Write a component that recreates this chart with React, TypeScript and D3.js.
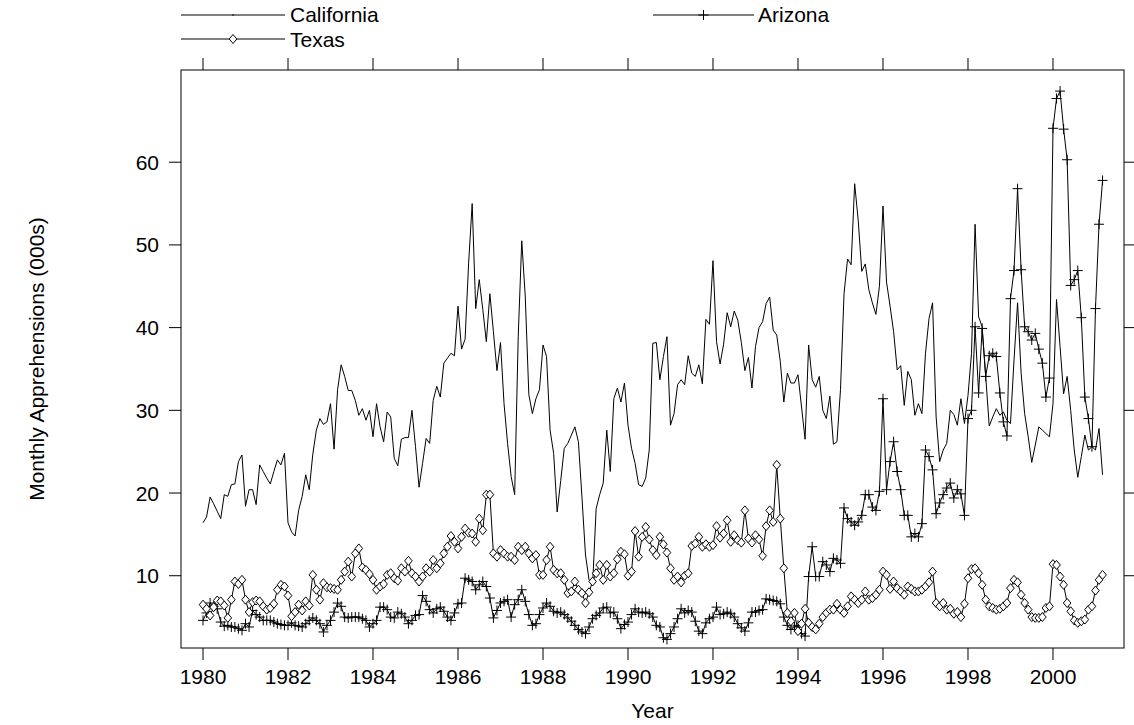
import React from "react";
import * as d3 from "d3";

const startYear = 1980;
const californiaValues = [
  16.4, 17.1, 19.5, 18.7, 17.8, 16.9, 19.8, 19.6, 21.0, 21.1, 23.8, 24.6,
  18.4, 20.4, 20.4, 18.6, 23.4, 22.6, 21.8, 21.1, 22.6, 24.0, 23.4, 24.8,
  16.4, 15.3, 14.8, 17.9, 19.6, 22.2, 20.4, 24.7, 27.6, 29.0, 28.3, 28.6,
  30.8, 25.3, 32.5, 35.5, 34.1, 32.4, 32.4, 31.2, 29.4, 30.2, 28.8, 30.0,
  26.8, 30.8, 28.0, 26.2, 29.8, 29.2, 24.2, 23.3, 26.5, 26.7, 26.7, 30.0,
  25.6, 20.7, 23.6, 26.6, 26.0, 31.2, 32.9, 31.6, 35.7, 36.3, 36.9, 36.6,
  42.6, 37.4, 38.6, 47.8, 55.0, 42.3, 45.8, 42.2, 38.3, 44.1, 39.5, 34.8,
  38.2, 30.8, 26.0, 22.0, 19.8, 38.9, 50.5, 43.7, 31.9, 29.6, 31.4, 32.5,
  37.9, 36.5, 27.6, 24.8, 17.7, 21.5, 25.4, 26.0, 27.0, 28.0, 26.2, 19.5,
  12.5, 9.5, 8.8, 18.1, 19.8, 21.2, 27.6, 22.6, 31.4, 32.7, 31.0, 33.3,
  28.2, 25.4, 23.6, 21.0, 20.8, 21.8, 25.2, 38.1, 38.2, 33.7, 36.5, 38.9,
  28.2, 29.6, 33.1, 33.7, 33.1, 36.6, 34.5, 34.1, 35.5, 33.2, 41.0, 40.4,
  48.1, 38.3, 35.6, 38.0, 41.8, 40.1, 42.0, 40.9, 38.2, 34.8, 36.4, 32.7,
  37.7, 40.0, 40.7, 42.9, 43.7, 39.7, 39.1, 35.9, 31.0, 34.5, 33.3, 33.3,
  34.3, 30.4, 26.5, 37.9, 33.7, 32.8, 34.1, 30.0, 29.0, 31.7, 25.9, 26.2,
  32.5, 44.1, 48.3, 47.6, 57.4, 53.0, 46.8, 47.7, 44.6, 43.0, 41.6, 45.0,
  54.7, 45.5, 42.6, 39.5, 34.9, 35.4, 30.6, 34.7, 33.7, 29.4, 30.8, 29.6,
  36.9, 41.1, 43.0, 29.2, 23.8, 25.2, 26.0, 30.0, 29.5, 28.2, 31.4, 28.4,
  31.8, 36.9, 52.5, 41.3, 40.1, 34.1, 28.1, 29.2, 30.2, 29.4, 29.8, 28.8,
  28.4, 36.1, 43.0, 34.5, 29.6, 26.8, 23.7, 25.8, 28.0, 27.6, 27.2, 26.8,
  30.8, 43.4, 37.7, 32.0, 34.1, 30.0, 25.2, 21.9, 24.4, 27.0, 25.2, 25.6,
  25.2, 27.8, 22.2,
];
const arizonaValues = [
  4.6, 5.5, 6.7, 6.3, 6.0, 4.4, 3.9, 4.0, 3.8, 3.8, 3.6, 3.4,
  4.2, 3.8, 5.8, 5.3, 5.0, 4.6, 4.6, 4.6, 4.4, 4.2, 4.1, 4.0,
  4.0, 4.3, 4.0, 3.9, 3.8, 4.2, 4.6, 4.9, 4.6, 4.2, 3.2, 4.0,
  4.6, 5.6, 6.7, 6.3, 5.0, 4.9, 5.0, 5.0, 5.0, 4.8, 4.6, 3.8,
  4.2, 4.6, 6.2, 6.2, 5.9, 5.0, 4.9, 5.6, 5.4, 5.0, 4.2, 4.6,
  5.2, 5.3, 7.6, 6.9, 5.9, 5.5, 6.0, 6.2, 5.7, 5.0, 4.6, 5.5,
  6.6, 6.7, 9.7, 9.5, 9.3, 8.3, 8.9, 9.3, 8.7, 7.3, 4.9, 5.8,
  6.7, 6.9, 7.1, 5.0, 6.5, 7.1, 8.3, 6.9, 5.3, 4.0, 4.2, 5.3,
  6.1, 6.7, 6.3, 5.7, 5.5, 5.6, 5.3, 4.9, 4.5, 4.0, 3.5, 3.2,
  3.0, 3.8, 4.8, 5.2, 5.5, 6.1, 6.2, 5.5, 5.6, 4.8, 3.6, 4.1,
  4.4, 5.3, 6.0, 5.6, 5.5, 5.6, 5.4, 5.0, 4.0, 3.8, 2.5, 2.3,
  3.0, 3.8, 4.8, 6.0, 5.5, 5.8, 5.6, 4.5, 3.3, 3.0, 4.3, 4.8,
  5.0, 6.2, 5.3, 5.4, 5.6, 5.4, 5.0, 4.2, 3.7, 3.3, 4.3, 5.6,
  5.6, 5.8, 5.9, 7.2, 7.1, 7.0, 6.9, 6.6, 5.0, 4.0, 3.5, 3.8,
  4.0, 3.0, 2.7, 9.9, 13.5, 9.9, 9.9, 11.7, 11.3, 10.5, 12.1, 11.9,
  11.5, 18.2, 16.9, 16.5, 16.1, 16.5, 17.3, 19.8, 19.8, 18.3, 17.9, 20.2,
  31.4, 20.4, 23.8, 26.2, 22.6, 20.4, 17.3, 17.3, 14.7, 15.1, 14.7, 16.3,
  25.2, 24.4, 22.8, 17.5, 18.8, 19.8, 20.6, 21.2, 19.4, 20.4, 19.9, 17.3,
  29.0, 30.0, 40.1, 32.1, 39.9, 34.1, 36.6, 36.9, 36.5, 32.1, 28.6, 26.9,
  43.5, 46.9, 56.8, 47.0, 40.1, 39.5, 38.5, 39.3, 37.4, 35.7, 31.6, 33.9,
  64.1, 67.7, 68.6, 64.0, 60.3, 45.1, 45.8, 46.9, 41.2, 31.6, 29.0, 25.6,
  42.3, 52.5, 57.8,
];
const texasValues = [
  6.5, 6.0, 5.2, 6.2, 7.0, 6.9, 6.4, 4.9, 7.1, 9.3, 9.0, 9.5,
  7.1, 5.6, 6.8, 7.0, 6.9, 6.3, 5.9, 6.1, 6.6, 8.3, 8.9, 8.7,
  7.6, 5.1, 5.6, 6.5, 5.8, 6.9, 6.4, 10.1, 8.3, 7.1, 9.1, 8.6,
  8.5, 8.4, 8.3, 9.5, 10.5, 11.7, 9.9, 12.7, 13.3, 11.0, 10.7, 10.2,
  9.5, 8.3, 8.7, 9.0, 10.1, 10.3, 9.7, 9.4, 10.9, 10.5, 11.8, 10.3,
  9.9, 9.3, 9.9, 10.9, 10.5, 11.9, 10.9, 11.5, 12.7, 13.5, 14.8, 14.1,
  13.3, 14.7, 15.7, 15.2, 15.1, 14.1, 16.9, 15.5, 19.8, 19.8, 12.7, 12.3,
  13.1, 12.7, 12.3, 12.3, 11.9, 13.5, 13.1, 13.5, 12.7, 12.1, 12.5, 10.1,
  10.1, 11.9, 13.5, 10.7, 10.3, 10.3, 9.5, 7.9, 8.1, 9.3, 8.3, 7.9,
  6.7, 8.0, 9.3, 10.3, 11.3, 9.5, 11.3, 9.9, 10.3, 12.0, 12.9, 12.6,
  10.0, 10.5, 15.4, 12.3, 14.7, 15.9, 14.4, 13.1, 12.5, 14.7, 13.8, 12.8,
  10.9, 9.5, 9.9, 9.2, 10.0, 10.3, 13.6, 13.9, 14.7, 13.5, 13.8, 13.5,
  13.7, 16.0, 14.6, 15.1, 16.7, 14.1, 14.9, 14.3, 14.0, 17.9, 14.5, 14.0,
  14.9, 14.4, 12.4, 16.0, 17.9, 16.5, 23.4, 16.9, 10.9, 5.5, 4.5, 5.5,
  3.3, 4.2, 6.0, 4.3, 3.8, 3.5, 4.2, 5.0, 5.5, 5.9, 5.9, 6.6,
  5.9, 5.5, 6.3, 7.5, 7.1, 6.7, 7.1, 8.1, 7.1, 7.3, 7.7, 8.3,
  10.5, 10.1, 8.4, 9.3, 8.5, 8.1, 7.7, 8.7, 8.4, 8.1, 8.1, 8.3,
  8.7, 9.2, 10.5, 6.7, 6.3, 6.7, 5.9, 6.0, 5.4, 5.6, 5.0, 6.6,
  9.7, 10.8, 10.9, 10.3, 8.9, 7.1, 6.3, 6.1, 5.9, 6.0, 6.3, 6.7,
  8.5, 9.5, 9.2, 7.7, 6.7, 5.9, 5.0, 4.9, 4.9, 5.0, 6.1, 6.3,
  11.4, 11.3, 9.9, 8.9, 6.7, 5.7, 4.6, 4.3, 4.5, 4.7, 5.9, 6.3,
  8.2, 9.5, 10.1,
];
const xTickYears = [1980, 1982, 1984, 1986, 1988, 1990, 1992, 1994, 1996, 1998, 2000];
const yTickValues = [10, 20, 30, 40, 50, 60];
const seriesNames = ["California", "Arizona", "Texas"];

const W = 1134;
const H = 725;
const L = 181, R = 1124, T = 70, B = 648;
const FONT = "'Liberation Sans', Arial, Helvetica, sans-serif";

export default function App() {
  const x = d3.scaleLinear().domain([1979.482, 2001.671]).range([L, R]);
  const y = d3.scaleLinear().domain([1.26, 71.15]).range([B, T]);
  const toPts = (vals: number[]) => vals.map((v, i) => [startYear + i / 12, v] as [number, number]);
  const line = d3.line<[number, number]>().x((d) => x(d[0])).y((d) => y(d[1]));
  const cal = toPts(californiaValues);
  const az = toPts(arizonaValues);
  const tx = toPts(texasValues);
  const tick = 12;
  const plus = (cx: number, cy: number, k: string) => (
    <path key={k} d={`M${cx - 5},${cy}H${cx + 5}M${cx},${cy - 5}V${cy + 5}`} stroke="#000" strokeWidth={1} fill="none" />
  );
  const diamond = (cx: number, cy: number, k: string) => (
    <path key={k} d={`M${cx},${cy - 4.5}L${cx + 3.8},${cy}L${cx},${cy + 4.5}L${cx - 3.8},${cy}Z`} stroke="#000" strokeWidth={1} fill="#fff" />
  );
  return (
    <svg width={W} height={H} style={{ position: "absolute", left: 0, top: 0, background: "#fff" }} fontFamily={FONT}>
      <rect x={0} y={0} width={W} height={H} fill="#fff" />
      <g>
        <line x1={181} x2={285} y1={15} y2={15} stroke="#000" />
        <circle cx={233} cy={15} r={0.8} fill="#000" />
        <text x={290} y={22} fontSize={21}>{seriesNames[0]}</text>
        <line x1={653} x2={754} y1={15} y2={15} stroke="#000" />
        {plus(703.5, 15, "lp")}
        <text x={758} y={22} fontSize={21}>{seriesNames[1]}</text>
        <line x1={181} x2={285} y1={39} y2={39} stroke="#000" />
        {diamond(233, 39, "ld")}
        <text x={290} y={47} fontSize={21}>{seriesNames[2]}</text>
      </g>
      <rect x={L} y={T} width={R - L} height={B - T} fill="none" stroke="#000" strokeWidth={1} />
      {xTickYears.map((yr) => (
        <g key={"xt" + yr}>
          <line x1={x(yr)} x2={x(yr)} y1={B} y2={B + tick} stroke="#000" />
          <line x1={x(yr)} x2={x(yr)} y1={T} y2={T - tick} stroke="#000" />
          <text x={x(yr)} y={B + 36} fontSize={21} textAnchor="middle">{yr}</text>
        </g>
      ))}
      {yTickValues.map((v) => (
        <g key={"yt" + v}>
          <line x1={L} x2={L - tick} y1={y(v)} y2={y(v)} stroke="#000" />
          <line x1={R} x2={R + tick} y1={y(v)} y2={y(v)} stroke="#000" />
          <text x={L - 22} y={y(v) + 7.5} fontSize={21} textAnchor="end">{v}</text>
        </g>
      ))}
      <text x={(L + R) / 2} y={718} fontSize={21} textAnchor="middle">Year</text>
      <text transform={`translate(44,${(T + B) / 2}) rotate(-90)`} fontSize={21} textAnchor="middle">Monthly Apprehensions (000s)</text>
      <path d={line(cal) || ""} fill="none" stroke="#000" strokeWidth={1} />
      <path d={line(az) || ""} fill="none" stroke="#000" strokeWidth={1} />
      <path d={line(tx) || ""} fill="none" stroke="#000" strokeWidth={1} />
      {az.map((d, i) => plus(x(d[0]), y(d[1]), "p" + i))}
      {tx.map((d, i) => diamond(x(d[0]), y(d[1]), "d" + i))}
    </svg>
  );
}
